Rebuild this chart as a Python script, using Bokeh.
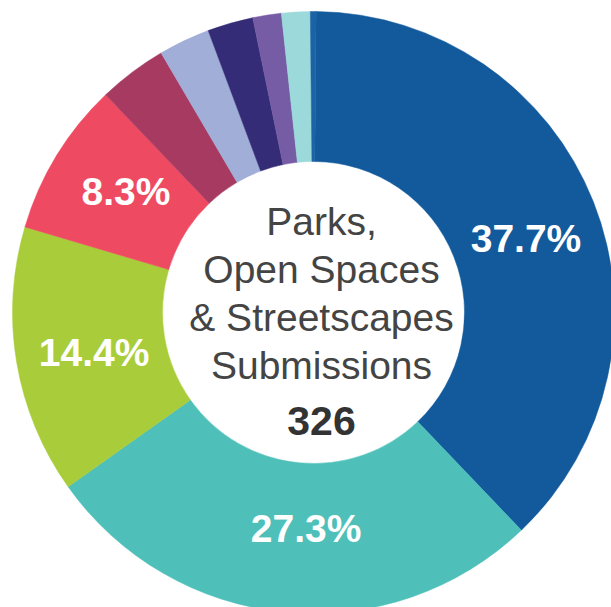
import math
from bokeh.plotting import figure
from bokeh.models import Range1d, ColumnDataSource
from bokeh.core.properties import value
from bokeh.embed import file_html
from bokeh.resources import INLINE

# ---- data (submission counts per category, total 326) ----
categories = ["A", "B", "C", "D", "E", "F", "G", "H", "I", "J"]
counts = [123, 89, 47, 27, 12, 9, 8, 5, 5, 1]
colors = ["#125A9C", "#4EC0B9", "#A9CD3A", "#EE4B62", "#A63A60",
          "#A1AED7", "#342C76", "#765CA5", "#9CD9DB", "#1B63A5"]
show_label = [True, True, True, True, False, False, False, False, False, False]
center_lines = ["Parks,", "Open Spaces", "& Streetscapes", "Submissions"]
total_label = "326"

# label placement tweaks (style): angle nudge in degrees, radius nudge in px
label_nudge_deg = [2.4, -3.5, -0.8, 1.3, 0, 0, 0, 0, 0, 0]
label_nudge_r = [2, -7, 0, 0, 0, 0, 0, 0, 0, 0]

W, H = 611, 607
CX, CY = 313, 312          # donut centre in pixels from top-left of figure
R_IN, R_OUT = 151, 301
START_DEG = 0.5            # clockwise offset from 12 o'clock

total = sum(counts)
pcts = [c / total * 100 for c in counts]

starts, ends, lx, ly, ltxt = [], [], [], [], []
cum = 0.0
for c, pc, show, nd, nr in zip(counts, pcts, show_label, label_nudge_deg, label_nudge_r):
    t1 = START_DEG + cum / total * 360
    cum += c
    t2 = START_DEG + cum / total * 360
    starts.append(math.radians(90 - t1))
    ends.append(math.radians(90 - t2))
    if show:
        mid = math.radians(90 - ((t1 + t2) / 2 + nd))
        rl = (R_IN + R_OUT) / 2 - 3 + nr
        lx.append(rl * math.cos(mid))
        ly.append(rl * math.sin(mid))
        ltxt.append(f"{pc:.1f}%")

src = ColumnDataSource(dict(start=starts, end=ends, color=colors, cat=categories))

p = figure(width=W, height=H, output_backend="svg", toolbar_location=None,
           x_range=Range1d(-CX, W - CX), y_range=Range1d(-(H - CY), CY),
           min_border=0, border_fill_color="white", background_fill_color="white")
p.axis.visible = False
p.grid.visible = False
p.outline_line_color = None

p.annular_wedge(x=0, y=0, inner_radius=R_IN, outer_radius=R_OUT,
                start_angle="start", end_angle="end", direction="clock",
                fill_color="color", line_color="color", line_width=0.5, source=src)

p.text(x=lx, y=ly, text=ltxt, text_align="center", text_baseline="middle",
       text_color="white", text_font=value("Liberation Sans"),
       text_font_style="bold", text_font_size="39px")

line_h = 48
top_base = 91
cy_vals = [top_base - i * line_h for i in range(len(center_lines))]
p.text(x=[8] * len(center_lines), y=cy_vals, text=center_lines,
       text_align="center", text_baseline="alphabetic",
       text_color="#444444", text_font=value("Liberation Sans"),
       text_font_size="39px")
p.text(x=[8], y=[cy_vals[-1] - 55], text=[total_label],
       text_align="center", text_baseline="alphabetic",
       text_color="#333333", text_font=value("Liberation Sans"),
       text_font_style="bold", text_font_size="41px")

open("out.html", "w").write(file_html(p, INLINE))
